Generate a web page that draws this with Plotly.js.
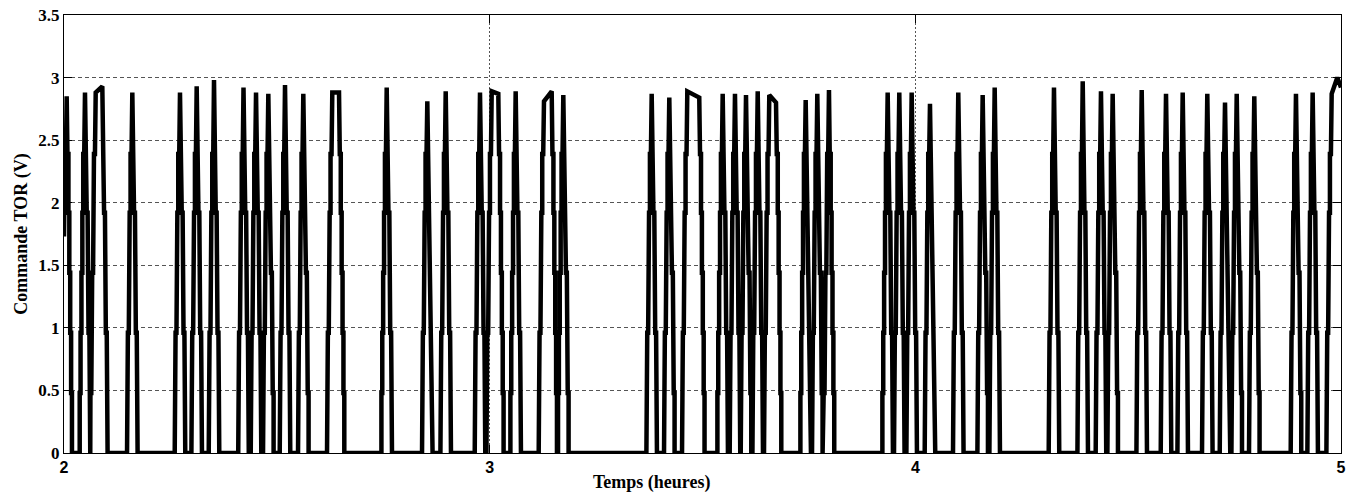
<!DOCTYPE html>
<html>
<head>
<meta charset="utf-8">
<script src="https://cdn.plot.ly/plotly-3.0.1.min.js"></script>
<style>
html,body{margin:0;padding:0;background:#fff;}
#chart{width:1360px;height:492px;}
</style>
</head>
<body>
<div id="chart"></div>
<script>
// ---- Data ----
// Time (hours) where each pulse reaches its top (start / end of top; equal for sharp pulses)
const pulseTopStart = [2.0063, 2.0493, 2.0745, 2.1605, 2.2725, 2.3117, 2.3524, 2.4217, 2.4511, 2.4800,
  2.5192, 2.5622, 2.6303, 2.7581, 2.8535, 2.8967, 2.9773, 3.0048, 3.0611, 3.1276,
  3.1730, 3.3806, 3.4220, 3.4643, 3.5474, 3.5763, 3.6022, 3.6297, 3.6569, 3.7424,
  3.7697, 3.7971, 3.9350, 3.9623, 3.9914, 4.0344, 4.1009, 4.1582, 4.1864, 4.3257,
  4.3932, 4.4361, 4.4636, 4.5318, 4.5889, 4.6281, 4.6859, 4.7275, 4.7550, 4.7963,
  4.8942, 4.9334, 4.9781];
const pulseTopEnd = [2.0063, 2.0493, 2.0900, 2.1605, 2.2725, 2.3117, 2.3524, 2.4217, 2.4511, 2.4800,
  2.5192, 2.5622, 2.6461, 2.7581, 2.8535, 2.8967, 2.9773, 3.0203, 3.0611, 3.1457,
  3.1730, 3.3806, 3.4220, 3.4924, 3.5474, 3.5763, 3.6022, 3.6297, 3.6727, 3.7424,
  3.7697, 3.7971, 3.9350, 3.9623, 3.9914, 4.0344, 4.1009, 4.1582, 4.1864, 4.3257,
  4.3932, 4.4361, 4.4636, 4.5318, 4.5889, 4.6281, 4.6859, 4.7275, 4.7550, 4.7963,
  4.8942, 4.9334, 4.9913];
// Peak values (V) at top start / top end
const peakStart = [2.85, 2.88, 2.88, 2.88, 2.88, 2.93, 2.98, 2.92, 2.88, 2.87,
  2.94, 2.87, 2.88, 2.92, 2.81, 2.89, 2.88, 2.89, 2.89, 2.81,
  2.86, 2.87, 2.84, 2.89, 2.87, 2.87, 2.86, 2.89, 2.86, 2.82,
  2.87, 2.90, 2.88, 2.88, 2.88, 2.79, 2.88, 2.86, 2.92, 2.92,
  2.97, 2.89, 2.87, 2.90, 2.87, 2.88, 2.87, 2.80, 2.87, 2.85,
  2.87, 2.88, 2.87];
const peakEnd = [2.85, 2.88, 2.93, 2.88, 2.88, 2.93, 2.98, 2.92, 2.88, 2.87,
  2.94, 2.87, 2.88, 2.92, 2.81, 2.89, 2.88, 2.87, 2.89, 2.89,
  2.86, 2.87, 2.84, 2.84, 2.87, 2.87, 2.86, 2.89, 2.80, 2.82,
  2.87, 2.90, 2.88, 2.88, 2.88, 2.79, 2.88, 2.86, 2.92, 2.92,
  2.97, 2.89, 2.87, 2.90, 2.87, 2.88, 2.87, 2.80, 2.87, 2.85,
  2.87, 2.88, 3.00];
// Quantised command levels visible as steps on every edge (V)
const stepLevels = [0, 0.48, 0.96, 1.44, 1.92, 2.39];
// Signal value at the first and last instants
const startValue = 1.73;
const endTime = 5.0;
const endValue = 2.92;

// Axis ticks
const yTickVals = [0, 0.5, 1, 1.5, 2, 2.5, 3, 3.5];
const yTickText = ['0', '0.5', '1', '1.5', '2', '2.5', '3', '3.5'];
const xTickVals = [2, 3, 4, 5];
const xTickText = ['2', '3', '4', '5'];

// ---- Build the staircase path ----
// horizontal distance (hours) of each edge step from the pulse top
const EDGE = [0.0124, 0.0104, 0.0083, 0.0062, 0.0041, 0.0018];
const xs = [], ys = [];
function pt(x, y) { xs.push(x); ys.push(y); }
pt(2.0, startValue);
const n = pulseTopStart.length;
for (let k = 0; k < n; k++) {
  const ts = pulseTopStart[k], te = pulseTopEnd[k];
  const floor = (k === 0) ? startValue : 0;
  // rising edge
  for (let i = 0; i < stepLevels.length - 1; i++) {
    const lo = stepLevels[i], hi = stepLevels[i + 1];
    if (hi <= floor) continue;
    const x = ts - EDGE[i];
    pt(x, Math.max(lo, floor));
    pt(x, hi);
  }
  pt(ts - EDGE[5], stepLevels[5]);
  pt(ts, peakStart[k]);
  if (te !== ts) pt(te, peakEnd[k]);
  if (k === n - 1) { pt(endTime, endValue); break; }
  // falling edge
  pt(te + EDGE[5], stepLevels[5]);
  for (let i = stepLevels.length - 2; i >= 0; i--) {
    const x = te + EDGE[i];
    pt(x, stepLevels[i + 1]);
    pt(x, stepLevels[i]);
  }
}

const trace = {
  x: xs, y: ys, type: 'scatter', mode: 'lines',
  line: { color: '#000', width: 4.5, shape: 'linear' },
  hoverinfo: 'skip', showlegend: false
};

const serifBold = 'Liberation Serif';
const layout = {
  width: 1360, height: 492,
  margin: { l: 64, r: 19, t: 15, b: 39 },
  paper_bgcolor: '#fff', plot_bgcolor: '#fff',
  showlegend: false,
  xaxis: {
    range: [2, 5], tickvals: xTickVals, ticktext: xTickText,
    showgrid: true, gridcolor: '#555', gridwidth: 1, griddash: '2px,2px',
    zeroline: false, showline: true, linecolor: '#000', linewidth: 1, mirror: 'ticks',
    ticks: 'inside', ticklen: 8, tickcolor: '#000',
    tickfont: { family: 'Liberation Sans', size: 16, color: '#000', weight: 'bold' },
    fixedrange: true
  },
  yaxis: {
    range: [0, 3.5], tickvals: yTickVals, ticktext: yTickText,
    showgrid: true, gridcolor: '#555', gridwidth: 1, griddash: '4px,3px',
    zeroline: false, showline: true, linecolor: '#000', linewidth: 1, mirror: 'ticks',
    ticks: 'inside', ticklen: 8, tickcolor: '#000',
    tickfont: { family: serifBold, size: 17, color: '#000', weight: 'bold' },
    title: { text: '<b>Commande TOR (V)</b>', font: { family: serifBold, size: 18, color: '#000' }, standoff: 6 },
    fixedrange: true
  },
  annotations: [{
    text: '<b>Temps (heures)</b>', xref: 'paper', yref: 'paper',
    x: 0.4605, y: 0, yshift: -17, xanchor: 'center', yanchor: 'top',
    showarrow: false, font: { family: serifBold, size: 18, color: '#000' }
  }]
};

Plotly.newPlot('chart', [trace], layout, { staticPlot: true, displayModeBar: false });
</script>
</body>
</html>
